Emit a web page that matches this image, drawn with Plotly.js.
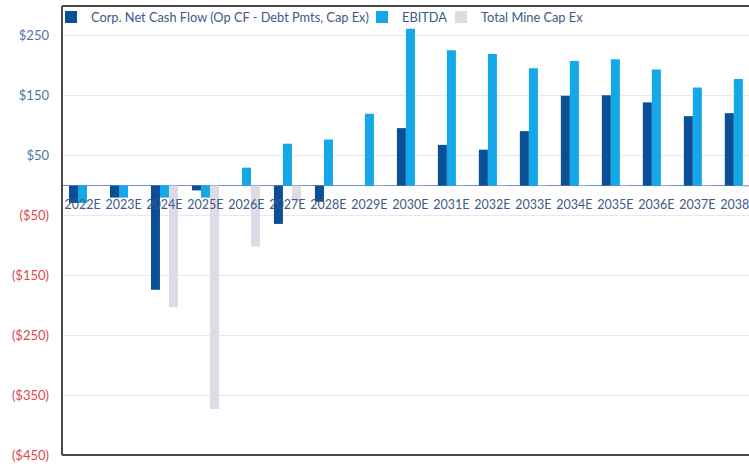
<!DOCTYPE html>
<html>
<head>
<meta charset="utf-8">
<script src="https://cdn.plot.ly/plotly-3.0.1.min.js"></script>
<style>html,body{margin:0;padding:0;background:#fff;}#chart{width:749px;height:466px;}</style>
</head>
<body>
<div id="chart"></div>
<script>
const years = ["2022E","2023E","2024E","2025E","2026E","2027E","2028E","2029E","2030E","2031E","2032E","2033E","2034E","2035E","2036E","2037E","2038E"];
const netCashFlow = [-29,-20,-174,-8,0,-64,-27,0,96,68,60,91,150,151,139,116,121];
const ebitda = [-29,-20,-20,-20,30,70,77,120,262,226,220,196,208,211,194,164,178];
const mineCapEx = [0,0,-203,-373,-102,-26,0,-1,-1,-1,-1,-1,-1,-1,-1,-1,-3];
const yTickVals = [250,150,50,-50,-150,-250,-350,-450];
const yTickText = ["$250","$150","$50","($50)","($150)","($250)","($350)","($450)"];

const posColor = "#4f74a6", negColor = "#e0474c";
const ticktext = yTickVals.map((v,i)=>'<span style="color:'+(v>=0?posColor:negColor)+'">'+yTickText[i]+'</span>');

const traces = [
  {type:"bar", name:"Corp. Net Cash Flow (Op CF - Debt Pmts, Cap Ex)", x:years, y:netCashFlow, marker:{color:"#0b4f97"}, legend:"legend"},
  {type:"bar", name:"EBITDA", x:years, y:ebitda, marker:{color:"#14a8e8"}, legend:"legend2"},
  {type:"bar", name:"Total Mine Cap Ex", x:years, y:mineCapEx, marker:{color:"#dedbe7"}, legend:"legend3"}
];

const legFont = {family:"Lato, 'Liberation Sans', sans-serif", size:12.8, color:"#3b5a88"};
const legBase = {orientation:"h", bgcolor:"rgba(0,0,0,0)", font:legFont, yanchor:"middle", y:0.975, xanchor:"left", itemwidth:30};

const layout = {
  width:749, height:466,
  margin:{l:62, r:0, t:6, b:11},
  paper_bgcolor:"#fff", plot_bgcolor:"#fff",
  barmode:"group", bargap:0.34, bargroupgap:0,
  showlegend:true,
  legend:Object.assign({}, legBase, {x:-0.016}),
  legend2:Object.assign({}, legBase, {x:0.4367}),
  legend3:Object.assign({}, legBase, {x:0.5517}),
  xaxis:{type:"category", range:[-0.5,16.26], anchor:"free", position:450/750,
    showline:false, showgrid:false, zeroline:false, ticks:"", ticklabelstandoff:10,
    tickfont:{family:"Lato, 'Liberation Sans', sans-serif", size:12.5, color:"#3d5a87"}},
  yaxis:{range:[-450,300], tickvals:yTickVals, ticktext:ticktext, showgrid:true, gridcolor:"#e8e8f2", gridwidth:1,
    zeroline:true, zerolinecolor:"#6d8fd0", zerolinewidth:1, showline:false, ticks:"", ticklabelstandoff:12,
    tickfont:{family:"Lato, 'Liberation Sans', sans-serif", size:13}},
  shapes:[
    {type:"line", xref:"paper", yref:"paper", x0:0, x1:0, y0:0, y1:1, line:{color:"#4a4a4a", width:2}},
    {type:"line", xref:"paper", yref:"paper", x0:0, x1:1.02, y0:1, y1:1, line:{color:"#4a4a4a", width:2}},
    {type:"line", xref:"paper", yref:"paper", x0:0, x1:1.02, y0:0, y1:0, line:{color:"#4a4a4a", width:2}}
  ]
};
Plotly.newPlot("chart", traces, layout, {displayModeBar:false, staticPlot:true});
</script>
</body>
</html>
